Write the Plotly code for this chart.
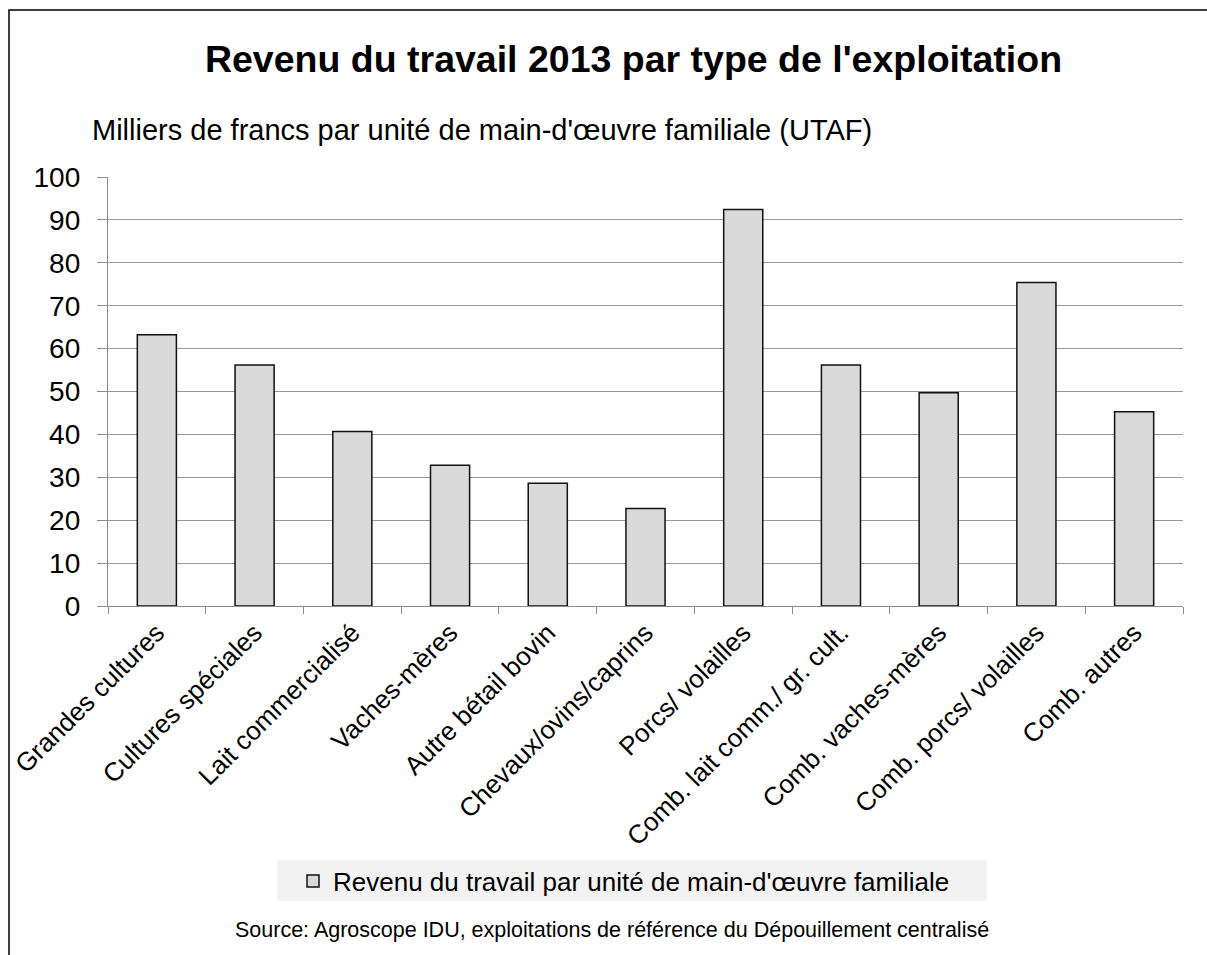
import plotly.graph_objects as go

categories = [
    "Grandes cultures", "Cultures spéciales", "Lait commercialisé", "Vaches-mères",
    "Autre bétail bovin", "Chevaux/ovins/caprins", "Porcs/ volailles",
    "Comb. lait comm./ gr. cult.", "Comb. vaches-mères", "Comb. porcs/ volailles",
    "Comb. autres",
]
values = [63.2, 56.2, 40.7, 32.8, 28.6, 22.7, 92.4, 56.2, 49.7, 75.4, 45.3]
series_name = "Revenu du travail par unité de main-d'œuvre familiale"
title_text = "Revenu du travail 2013 par type de l'exploitation"
yaxis_title = "Milliers de francs par unité de main-d'œuvre familiale (UTAF)"
source_text = "Source: Agroscope IDU, exploitations de référence du Dépouillement centralisé"
y_ticks = list(range(0, 101, 10))

FONT = "Liberation Sans, Arial, sans-serif"

fig = go.Figure()
fig.add_trace(go.Bar(
    x=categories, y=values, name=series_name,
    marker=dict(color="#d9d9d9", line=dict(color="#111111", width=1.5)),
    showlegend=True,
))

# plot area in pixels: x 108..1183, y 177..606
W, H = 1207, 955
L, R, T, B = 108, 24, 177, 349
pw = W - L - R
ph = H - T - B

def px(x):
    return (x - L) / pw

def py(y):
    return (H - B - y) / ph

fig.update_layout(
    width=W, height=H,
    margin=dict(l=L, r=R, t=T, b=B, pad=0, autoexpand=False),
    paper_bgcolor="white", plot_bgcolor="white",
    font=dict(family=FONT, color="#000000"),
    bargap=0.6,
    title=dict(text="<b>" + title_text + "</b>", font=dict(size=37.5, family=FONT, color="#000"),
               x=633.5 / W, xanchor="center", xref="container",
               y=1 - 58.5 / H, yanchor="middle", yref="container"),
    xaxis=dict(
        tickangle=-45, tickfont=dict(size=26, family=FONT, color="#000"),
        showline=True, linecolor="#8c8c8c", linewidth=1.3,
        ticks="outside", ticklen=7, tickcolor="#8c8c8c", tickwidth=1.3,
        tickson="boundaries", showgrid=False, automargin=False,
    ),
    yaxis=dict(
        range=[0, 100], tickvals=y_ticks,
        tickfont=dict(size=28, family=FONT, color="#000"),
        showline=True, linecolor="#8c8c8c", linewidth=1.3,
        ticks="outside", ticklen=10, tickcolor="#8c8c8c", tickwidth=1.3,
        showgrid=True, gridcolor="#9a9a9a", gridwidth=1.3,
        zeroline=False, ticklabelstandoff=11, automargin=False,
    ),
    legend=dict(
        orientation="h", x=px(293), xanchor="left", y=py(881), yanchor="middle",
        bgcolor="rgba(0,0,0,0)", font=dict(size=26, family=FONT, color="#000"),
        itemclick=False,
    ),
    shapes=[
        dict(type="rect", xref="paper", yref="paper",
             x0=px(277), x1=px(987), y0=py(901), y1=py(860),
             fillcolor="#f2f2f2", line=dict(width=0), layer="below"),
        dict(type="rect", xref="paper", yref="paper",
             x0=px(9), x1=px(1215), y0=py(965), y1=py(10),
             fillcolor="rgba(0,0,0,0)", line=dict(color="#000000", width=1.5)),
    ],
    annotations=[
        dict(text=yaxis_title, xref="paper", yref="paper", x=px(90), xanchor="left",
             y=py(130), yanchor="middle", showarrow=False,
             font=dict(size=29, family=FONT, color="#000")),
        dict(text=source_text, xref="paper", yref="paper", x=px(612), xanchor="center",
             y=py(930), yanchor="middle", showarrow=False,
             font=dict(size=21.5, family=FONT, color="#000")),
    ],
)

fig.write_html("out.html")
